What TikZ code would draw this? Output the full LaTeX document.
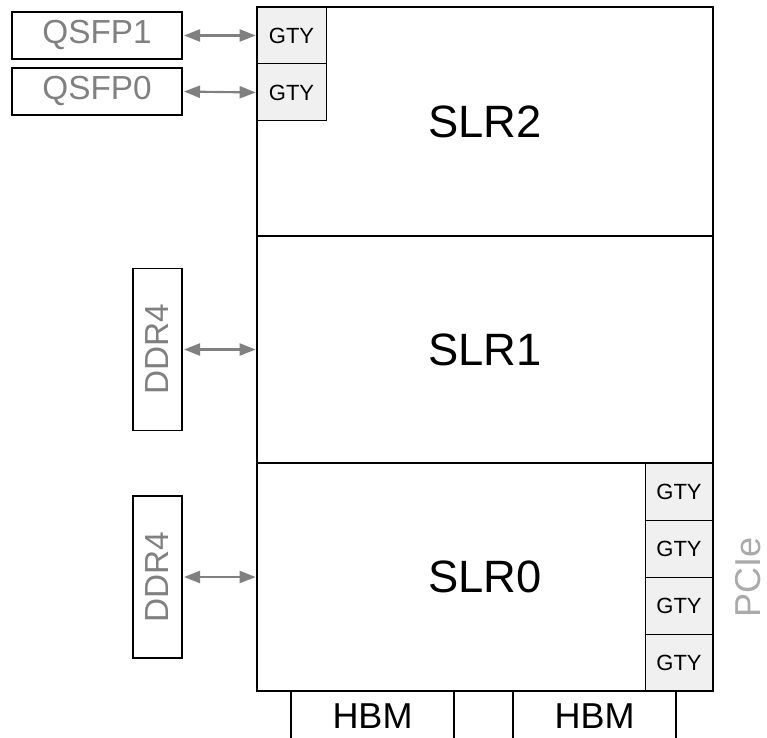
\documentclass[tikz,border=0pt]{standalone}
\usepackage{fontspec}
\setmainfont{Liberation Sans}
\usepackage{graphicx}
\usetikzlibrary{arrows.meta}

\definecolor{labelgray}{RGB}{128,128,128}
\definecolor{pciegray}{RGB}{170,170,170}
\definecolor{gtyfill}{RGB}{240,240,240}

\tikzset{
    slr/.style={draw, line width=1.5pt, inner sep=0pt, outer sep=0pt, font=\fontsize{34}{40}\selectfont},
    gty/.style={draw, line width=0.75pt, fill=gtyfill, inner sep=0pt, outer sep=0pt, font=\fontsize{16.5}{20}\selectfont},
    port/.style={draw, line width=1.1pt, inner sep=0pt, outer sep=0pt, text=labelgray, font=\fontsize{25}{30}\selectfont},
    hbm/.style={draw, line width=1.1pt, inner sep=0pt, outer sep=0pt, minimum width=163*0.75pt, minimum height=50*0.75pt, font=\fontsize{27}{32}\selectfont},
    link/.style={draw=labelgray, line width=1.6pt, {Triangle[length=12pt,width=9pt]}-{Triangle[length=12pt,width=9pt]}, shorten <=1.5pt, shorten >=1pt}
}

\begin{document}
\begin{tikzpicture}[x=0.75pt, y=-0.75pt]
    \clip (0,0) rectangle (767,738);

    % GTY blocks next to the QSFP cages (top left of SLR2)
    \node[gty, minimum width=69*0.75pt, minimum height=57*0.75pt] (gtyq1) at (291.5,35.5) {GTY};
    \node[gty, minimum width=69*0.75pt, minimum height=57*0.75pt] (gtyq0) at (291.5,92.5) {GTY};

    % GTY blocks for PCIe (right side of SLR0)
    \foreach \i/\y in {3/491.5, 2/548.5, 1/605.5, 0/662.5}
        \node[gty, minimum width=68*0.75pt, minimum height=57*0.75pt] (gtyp\i) at (679,\y) {GTY};

    % HBM stacks below SLR0
    \node[hbm] (hbmA) at (372.5,716) {HBM};
    \node[hbm] (hbmB) at (594.5,716) {HBM};

    % the three SLRs, stacked
    \node[slr, minimum width=456*0.75pt, minimum height=229*0.75pt] (slr2) at (485,121.5) {SLR2};
    \node[slr, minimum width=456*0.75pt, minimum height=227*0.75pt] (slr1) at (485,349.5) {SLR1};
    \node[slr, minimum width=456*0.75pt, minimum height=228*0.75pt] (slr0) at (485,577) {SLR0};

    % QSFP cages
    \node[port, minimum width=170*0.75pt, minimum height=47*0.75pt] (qsfp1) at (97,35.5) {QSFP1};
    \node[port, minimum width=170*0.75pt, minimum height=47*0.75pt] (qsfp0) at (97,91.5) {QSFP0};

    % DDR4 banks
    \node[port, minimum width=49*0.75pt, minimum height=162*0.75pt] (ddr1) at (157.5,349.5) {\rotatebox{90}{DDR4}};
    \node[port, minimum width=49*0.75pt, minimum height=162*0.75pt] (ddr0) at (157.5,577) {\rotatebox{90}{DDR4}};

    % PCIe label
    \node[text=pciegray, rotate=90, inner sep=0pt, font=\fontsize{27}{32}\selectfont] (pcie) at (748,577) {PCIe};

    % links
    \draw[link] (qsfp1.east) -- (gtyq1.west);
    \draw[link] (qsfp0.east) -- (gtyq0.west);
    \draw[link] (ddr1.east) -- (slr1.west);
    \draw[link] (ddr0.east) -- (slr0.west);
\end{tikzpicture}
\end{document}
